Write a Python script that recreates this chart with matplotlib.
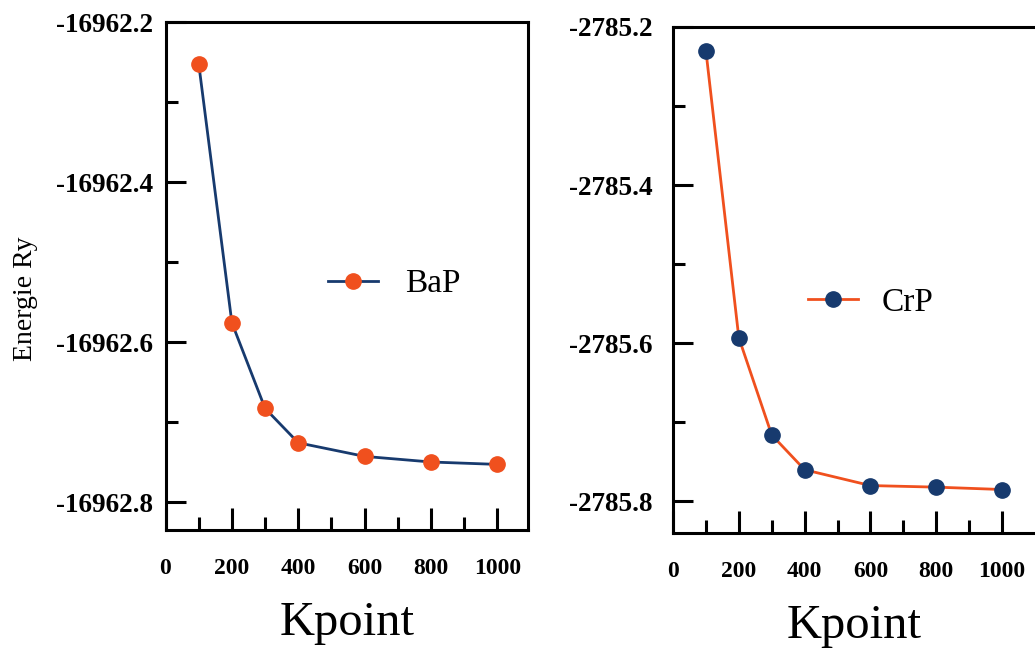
"""Total energy convergence against k-point count for BaP and CrP."""

import matplotlib

matplotlib.use("Agg")
import matplotlib.pyplot as plt
from matplotlib.ticker import FixedLocator, FormatStrFormatter

plt.rcParams["font.family"] = ["Liberation Serif", "DejaVu Serif"]
plt.rcParams["axes.unicode_minus"] = False

kpoints = [100, 200, 300, 400, 600, 800, 1000]
energy_bap = [-16962.252, -16962.576, -16962.683, -16962.726,
              -16962.743, -16962.750, -16962.753]
energy_crp = [-2785.230, -2785.593, -2785.716, -2785.760,
              -2785.780, -2785.782, -2785.785]

x_major = [0, 200, 400, 600, 800, 1000]
x_minor = [100, 300, 500, 700, 900]
bap_major = [-16962.8, -16962.6, -16962.4, -16962.2]
bap_minor = [-16962.7, -16962.5, -16962.3]
crp_major = [-2785.8, -2785.6, -2785.4, -2785.2]
crp_minor = [-2785.7, -2785.5, -2785.3]

NAVY = "#173a6e"
ORANGE = "#f0501e"

W, H = 1035, 655
fig = plt.figure(figsize=(W / 100, H / 100), dpi=100)
fig.patch.set_facecolor("white")


def style_axes(ax, ymajor, yminor, ylim, xmax, ypad):
    ax.set_xlim(0, xmax)
    ax.set_ylim(*ylim)
    ax.xaxis.set_major_locator(FixedLocator(x_major))
    ax.xaxis.set_minor_locator(FixedLocator(x_minor))
    ax.yaxis.set_major_locator(FixedLocator(ymajor))
    ax.yaxis.set_minor_locator(FixedLocator(yminor))
    ax.yaxis.set_major_formatter(FormatStrFormatter("%.1f"))
    ax.xaxis.set_major_formatter(FormatStrFormatter("%d"))
    for side in ax.spines.values():
        side.set_linewidth(2.2)
    ax.tick_params(axis="x", which="major", direction="in", length=16,
                   width=2.2, pad=20, labelsize=17)
    ax.tick_params(axis="x", which="minor", direction="in", length=9.5,
                   width=2.2)
    ax.tick_params(axis="y", which="major", direction="in", length=14.5,
                   width=2.2, pad=ypad, labelsize=19.5)
    ax.tick_params(axis="y", which="minor", direction="in", length=8.5,
                   width=2.2)
    for lbl in ax.get_xticklabels() + ax.get_yticklabels():
        lbl.set_fontweight("bold")
    ax.set_xlabel("Kpoint", fontsize=35, labelpad=16)


# BaP panel
ax1 = fig.add_axes([165.5 / W, (H - 530) / H, (528 - 165.5) / W, (530 - 22) / H])
ax1.plot(kpoints, energy_bap, color=NAVY, lw=2.0, marker="o", ms=11,
         mfc=ORANGE, mec=ORANGE, label="BaP")
style_axes(ax1, bap_major, bap_minor, (-16962.835, -16962.2), 1092, 9)
ax1.legend(loc="center left", bbox_to_anchor=(0.448, 0.484), frameon=False,
           fontsize=24, handlelength=1.5, handletextpad=0.8, borderpad=0,
           borderaxespad=0)

# CrP panel
ax2 = fig.add_axes([673 / W, (H - 533) / H, (1035 - 673) / W, (533 - 27) / H])
ax2.plot(kpoints, energy_crp, color=ORANGE, lw=2.0, marker="o", ms=11,
         mfc=NAVY, mec=NAVY, label="CrP")
style_axes(ax2, crp_major, crp_minor, (-2785.84, -2785.2), 1100, 15)
ax2.spines["right"].set_visible(False)
ax2.legend(loc="center left", bbox_to_anchor=(0.373, 0.456), frameon=False,
           fontsize=24, handlelength=1.5, handletextpad=0.7, borderpad=0,
           borderaxespad=0)

fig.text(25 / W, 1 - 299 / H, "Energie Ry", rotation=90, fontsize=20,
         ha="center", va="center")

fig.savefig("out.png", dpi=100, facecolor="white")
